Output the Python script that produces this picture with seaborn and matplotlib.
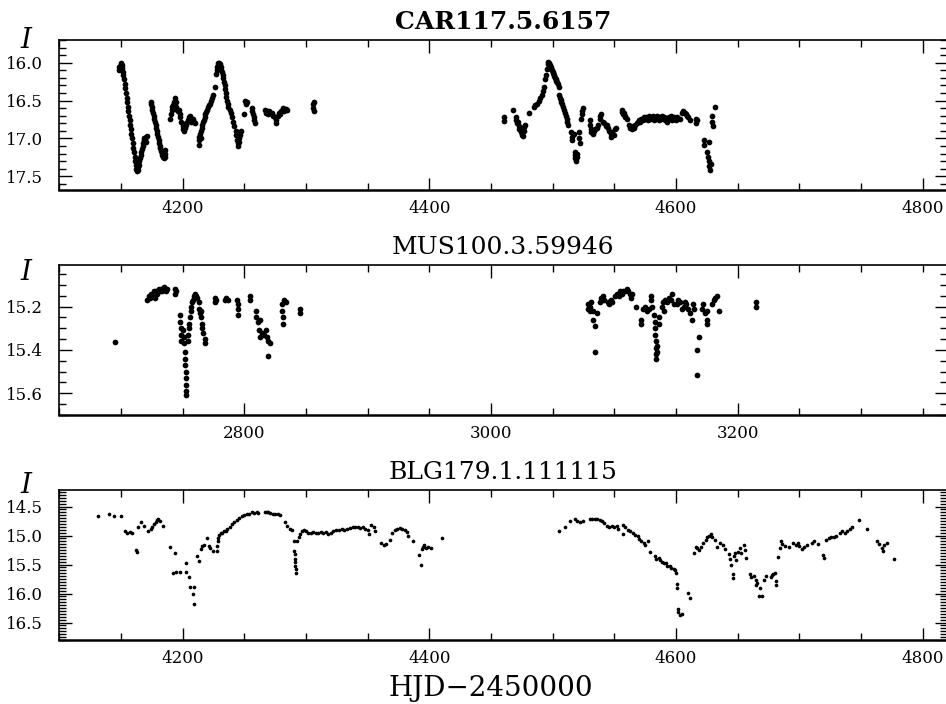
import matplotlib
matplotlib.use("Agg")
import matplotlib.pyplot as plt
import seaborn as sns
import pandas as pd
from matplotlib.ticker import MultipleLocator, FormatStrFormatter

# ---------------- data ----------------
titles = ["CAR117.5.6157", "MUS100.3.59946", "BLG179.1.111115"]
x_label = "HJD\u22122450000"
y_label = "I"

car_hjd = [
    4148.0, 4148.5, 4149.0, 4149.5, 4150.0, 4150.5, 4151.0, 4151.5, 4152.0, 4152.5,
    4153.0, 4153.5, 4154.0, 4154.5, 4155.0, 4155.5, 4156.0, 4156.5, 4157.0, 4157.5,
    4158.0, 4158.5, 4159.0, 4159.5, 4160.0, 4160.5, 4161.0, 4161.5, 4162.0, 4162.5,
    4163.0, 4163.5, 4164.0, 4164.5, 4165.0, 4165.5, 4166.0, 4166.5, 4167.0, 4167.5,
    4168.0, 4168.5, 4169.0, 4170.0, 4170.5, 4171.0,
    4174.0, 4174.5, 4175.0, 4175.5, 4176.0, 4176.5, 4177.0, 4177.5, 4178.0, 4178.5,
    4179.0, 4179.5, 4180.0, 4180.5, 4181.0, 4181.5, 4182.0, 4182.5, 4183.0, 4183.5,
    4184.0, 4184.5, 4185.0, 4185.5, 4186.0, 4186.0,
    4190.0, 4190.5, 4191.0, 4191.5, 4192.0, 4193.0, 4194.0, 4194.5, 4195.0, 4195.5,
    4196.0, 4197.0, 4197.5, 4198.0, 4199.0, 4200.0, 4200.5, 4201.0, 4202.0, 4202.5,
    4203.0, 4204.0, 4205.0, 4206.0, 4206.5, 4207.0, 4208.0, 4209.0, 4210.0,
    4213.0, 4213.0, 4213.5, 4214.0, 4214.5, 4215.0, 4215.5, 4216.0, 4216.5, 4217.0,
    4218.0, 4218.5, 4219.0, 4220.0, 4220.5, 4221.0, 4222.0, 4223.0, 4224.0, 4225.0,
    4226.0, 4227.0, 4227.5, 4228.0, 4228.5, 4229.0, 4229.5, 4230.0, 4230.5, 4231.0,
    4231.5, 4232.0, 4232.5, 4233.0, 4233.5, 4234.0, 4234.5, 4235.0, 4235.5, 4236.0,
    4236.5, 4237.0, 4238.0, 4239.0, 4240.0, 4241.0, 4242.0, 4243.0, 4243.5, 4244.0,
    4244.5, 4245.0, 4245.5, 4246.0, 4246.5, 4247.0,
    4249.5, 4250.5, 4251.0, 4252.0, 4256.0, 4256.5, 4257.0, 4257.5, 4258.0, 4258.5,
    4267.0, 4267.5, 4268.0, 4269.0, 4270.0, 4271.0, 4272.5, 4273.5, 4275.0, 4275.5,
    4276.0, 4277.0, 4278.0, 4279.0, 4280.0, 4281.0, 4282.0, 4284.0, 4285.0,
    4306.0, 4306.0, 4306.5, 4306.5,
    4460.5, 4460.5, 4468.0, 4470.0, 4470.5, 4471.0, 4472.0, 4472.5, 4473.0, 4474.0,
    4474.5, 4475.0, 4476.0, 4476.5, 4477.0, 4477.5, 4481.0, 4485.0, 4486.0, 4487.0,
    4489.0, 4490.0, 4491.0, 4492.0, 4493.0, 4494.0, 4494.5, 4495.5, 4496.0, 4496.5,
    4497.0, 4497.5, 4498.0, 4498.5, 4499.0, 4499.5, 4500.0, 4500.5, 4501.0, 4501.5,
    4502.0, 4502.5, 4503.0, 4503.5, 4504.0, 4505.0, 4505.5, 4506.0, 4506.5, 4507.0,
    4507.5, 4508.0, 4509.0, 4510.0, 4511.0, 4511.5, 4512.0, 4512.5, 4515.0, 4515.5,
    4516.0, 4517.5, 4518.0, 4518.5, 4518.5, 4519.0, 4519.5, 4520.0, 4521.5, 4521.5,
    4522.0, 4523.0, 4523.5, 4524.0, 4525.0, 4530.0, 4530.5, 4531.0, 4531.5, 4532.5,
    4533.5, 4534.5, 4536.0, 4537.0, 4538.0, 4538.5, 4539.5, 4541.0, 4542.0, 4543.0,
    4544.0, 4545.0, 4546.0, 4547.0, 4547.5, 4548.5, 4549.5, 4550.5, 4551.5,
    4556.0, 4556.5, 4557.0, 4558.0, 4558.5, 4559.0, 4560.0, 4562.0, 4563.0, 4564.0,
    4565.0, 4566.0, 4567.0, 4568.0, 4569.0, 4570.0, 4571.0, 4572.0, 4573.0, 4574.0,
    4575.0, 4576.0, 4577.0, 4578.0, 4579.0, 4580.0, 4581.0, 4582.0, 4583.0, 4584.0,
    4585.0, 4586.0, 4587.0, 4588.0, 4589.0, 4590.0, 4591.0, 4592.0, 4593.0, 4594.0,
    4595.0, 4596.0, 4597.0, 4598.0, 4599.0, 4600.0, 4601.0, 4603.0, 4605.0, 4606.0,
    4607.0, 4608.0, 4609.0, 4610.0, 4611.0, 4616.0, 4616.5, 4617.0, 4623.0, 4623.0,
    4625.5, 4626.0, 4626.5, 4627.0, 4627.0, 4627.5, 4628.0, 4629.5, 4629.5, 4630.0,
    4632.0,
]
car_mag = [
    16.10, 16.06, 16.04, 16.08, 16.00, 16.03, 16.07, 16.12, 16.16, 16.22,
    16.28, 16.34, 16.40, 16.46, 16.52, 16.58, 16.64, 16.70, 16.76, 16.82,
    16.88, 16.94, 17.00, 17.06, 17.12, 17.18, 17.24, 17.30, 17.35, 17.40,
    17.43, 17.38, 17.42, 17.35, 17.30, 17.26, 17.22, 17.18, 17.14, 17.10,
    17.06, 17.02, 17.00, 16.98, 17.04, 16.97,
    16.52, 16.55, 16.58, 16.62, 16.66, 16.70, 16.74, 16.78, 16.82, 16.86,
    16.90, 16.94, 16.98, 17.02, 17.06, 17.10, 17.13, 17.16, 17.19, 17.22,
    17.24, 17.26, 17.22, 17.25, 17.20, 17.15,
    16.74, 16.68, 16.62, 16.58, 16.56, 16.52, 16.47, 16.52, 16.58, 16.62,
    16.64, 16.62, 16.68, 16.72, 16.78, 16.84, 16.88, 16.90, 16.86, 16.82,
    16.80, 16.76, 16.72, 16.70, 16.74, 16.78, 16.74, 16.78, 16.80,
    17.08, 17.02, 16.98, 16.94, 17.00, 16.90, 16.86, 16.82, 16.78, 16.75,
    16.72, 16.68, 16.65, 16.62, 16.58, 16.56, 16.54, 16.50, 16.46, 16.43,
    16.32, 16.15, 16.10, 16.06, 16.03, 16.01, 16.00, 16.02, 16.04, 16.06,
    16.09, 16.12, 16.16, 16.20, 16.25, 16.30, 16.35, 16.40, 16.45, 16.50,
    16.54, 16.58, 16.62, 16.66, 16.72, 16.78, 16.84, 16.90, 16.96, 17.02,
    17.06, 17.10, 17.04, 17.00, 16.95, 16.90,
    16.68, 16.50, 16.54, 16.52, 16.60, 16.64, 16.68, 16.72, 16.76, 16.80,
    16.62, 16.66, 16.64, 16.68, 16.64, 16.66, 16.66, 16.70, 16.72, 16.80,
    16.76, 16.70, 16.66, 16.68, 16.64, 16.60, 16.64, 16.61, 16.62,
    16.55, 16.60, 16.64, 16.52,
    16.71, 16.77, 16.62, 16.72, 16.76, 16.80, 16.78, 16.84, 16.88, 16.86,
    16.92, 16.95, 16.97, 16.90, 16.85, 16.82, 16.66, 16.58, 16.56, 16.54,
    16.50, 16.46, 16.42, 16.37, 16.32, 16.22, 16.16, 16.08, 16.02, 15.99,
    16.01, 16.04, 16.03, 16.06, 16.08, 16.10, 16.12, 16.14, 16.16, 16.18,
    16.20, 16.22, 16.24, 16.26, 16.28, 16.32, 16.42, 16.46, 16.49, 16.52,
    16.55, 16.58, 16.62, 16.66, 16.70, 16.74, 16.78, 16.82, 16.92, 16.98,
    17.02, 16.94, 17.18, 17.22, 17.26, 17.30, 17.20, 17.24, 16.92, 17.00,
    17.06, 16.74, 16.68, 16.64, 16.60, 16.76, 16.82, 16.88, 16.92, 16.94,
    16.90, 16.88, 16.86, 16.82, 16.70, 16.74, 16.68, 16.78, 16.80, 16.84,
    16.82, 16.86, 16.90, 16.94, 16.98, 16.92, 16.96, 16.88, 16.86,
    16.62, 16.65, 16.68, 16.66, 16.70, 16.72, 16.74, 16.82, 16.86, 16.88,
    16.84, 16.86, 16.82, 16.80, 16.78, 16.76, 16.78, 16.74, 16.76, 16.72,
    16.74, 16.72, 16.76, 16.70, 16.74, 16.72, 16.70, 16.75, 16.72, 16.74,
    16.70, 16.76, 16.72, 16.74, 16.70, 16.72, 16.76, 16.73, 16.78, 16.72,
    16.74, 16.70, 16.76, 16.72, 16.74, 16.76, 16.72, 16.74, 16.66, 16.64,
    16.66, 16.68, 16.70, 16.72, 16.76, 16.74, 16.80, 16.76, 17.02, 17.08,
    17.18, 17.24, 17.30, 17.04, 17.36, 17.42, 17.34, 16.70, 16.78, 16.84,
    16.58,
]

mus_hjd = [
    2695.5, 2721.5, 2722.5, 2723.5, 2724.5, 2725.5, 2726.5, 2727.5, 2728.5, 2729.5,
    2730.5, 2731.5, 2732.5, 2733.5, 2734.5, 2735.5, 2736.5, 2737.5, 2743.5, 2744.0,
    2744.5, 2748.0, 2748.0, 2748.3, 2748.5, 2749.0, 2750.0, 2751.0, 2751.5, 2752.0,
    2752.0, 2752.2, 2752.4, 2752.6, 2752.8, 2753.0, 2753.0, 2754.0, 2754.5, 2755.0,
    2755.5, 2756.0, 2756.5, 2757.0, 2757.5, 2758.0, 2759.0, 2760.0, 2761.0, 2762.0,
    2763.0, 2763.5, 2764.0, 2764.5, 2765.0, 2765.5, 2766.0, 2766.5, 2768.0, 2768.0,
    2776.0, 2776.5, 2777.0, 2784.0, 2785.5, 2787.0, 2794.0, 2794.5, 2795.0, 2795.0,
    2805.0, 2805.0, 2809.5, 2809.5, 2811.0, 2812.0, 2812.5, 2813.0, 2814.5, 2816.0,
    2817.5, 2818.5, 2819.5, 2820.5, 2819.5, 2830.8, 2830.8, 2831.0, 2831.0, 2832.5,
    2833.5, 2845.0, 2845.0,
    3078.5, 3079.0, 3080.0, 3080.5, 3081.5, 3082.5, 3083.0, 3084.5, 3084.5, 3086.0,
    3088.0, 3089.0, 3090.0, 3091.0, 3092.0, 3095.0, 3096.0, 3097.0, 3098.5, 3100.5,
    3102.0, 3103.5, 3104.5, 3106.0, 3107.0, 3108.5, 3110.0, 3111.5, 3113.0, 3113.5,
    3114.5, 3117.5, 3121.5, 3121.5, 3123.5, 3125.0, 3126.5, 3128.0, 3129.5, 3129.5,
    3130.5, 3132.5, 3132.8, 3133.0, 3133.2, 3133.5, 3133.8, 3134.0, 3134.2, 3134.5,
    3135.0, 3136.0, 3136.0, 3138.5, 3139.5, 3140.0, 3141.5, 3143.0, 3144.5, 3146.0,
    3147.0, 3148.0, 3151.0, 3152.0, 3153.5, 3155.0, 3156.5, 3157.5, 3158.5, 3160.0,
    3161.0, 3162.7, 3164.0, 3165.0, 3166.8, 3167.3, 3168.7, 3171.0, 3172.0, 3173.5,
    3175.0, 3175.5, 3175.5, 3179.5, 3181.0, 3182.0, 3183.0, 3185.0, 3214.5, 3214.8,
]
mus_mag = [
    15.365, 15.17, 15.15, 15.16, 15.14, 15.15, 15.13, 15.16, 15.13, 15.14,
    15.12, 15.13, 15.12, 15.13, 15.11, 15.12, 15.13, 15.12, 15.12, 15.14,
    15.13, 15.24, 15.27, 15.30, 15.33, 15.36, 15.31, 15.34, 15.37, 15.41,
    15.44, 15.47, 15.50, 15.53, 15.56, 15.59, 15.61, 15.33, 15.36, 15.30,
    15.28, 15.25, 15.22, 15.20, 15.18, 15.17, 15.15, 15.14, 15.15, 15.16,
    15.18, 15.21, 15.23, 15.25, 15.22, 15.28, 15.30, 15.32, 15.35, 15.37,
    15.16, 15.18, 15.17, 15.17, 15.16, 15.17, 15.17, 15.19, 15.21, 15.24,
    15.15, 15.17, 15.22, 15.25, 15.27, 15.31, 15.34, 15.26, 15.32, 15.33,
    15.31, 15.34, 15.36, 15.37, 15.43, 15.19, 15.22, 15.25, 15.28, 15.17,
    15.18, 15.21, 15.23,
    15.21, 15.19, 15.20, 15.22, 15.18, 15.22, 15.26, 15.29, 15.41, 15.23,
    15.18, 15.16, 15.17, 15.15, 15.17, 15.18, 15.19, 15.17, 15.18, 15.15,
    15.14, 15.15, 15.13, 15.14, 15.13, 15.13, 15.12, 15.13, 15.14, 15.16,
    15.14, 15.20, 15.26, 15.28, 15.21, 15.20, 15.22, 15.21, 15.15, 15.17,
    15.20, 15.24, 15.27, 15.30, 15.33, 15.36, 15.39, 15.42, 15.44, 15.38,
    15.41, 15.25, 15.28, 15.20, 15.18, 15.22, 15.17, 15.18, 15.16, 15.17,
    15.14, 15.19, 15.19, 15.17, 15.18, 15.21, 15.20, 15.18, 15.19, 15.21,
    15.23, 15.26, 15.19, 15.21, 15.515, 15.40, 15.34, 15.21, 15.19, 15.23,
    15.22, 15.26, 15.28, 15.19, 15.17, 15.16, 15.15, 15.22, 15.18, 15.20,
]

blg_hjd = [
    4131, 4140, 4144, 4150, 4153, 4155, 4157, 4159, 4162, 4163,
    4164, 4166, 4169, 4172, 4174, 4175, 4177, 4178, 4179, 4180,
    4182, 4184, 4190, 4192, 4194, 4195, 4198, 4202.5, 4203, 4205,
    4206, 4208, 4209, 4209.6, 4211.5, 4213, 4215, 4215.5, 4217, 4219.5,
    4221, 4222, 4225, 4227.5, 4228, 4228.5, 4229, 4229.5, 4231, 4232,
    4233.5, 4235, 4236, 4238, 4240, 4242, 4244, 4246, 4248, 4250,
    4252, 4254, 4256, 4258, 4260, 4261, 4267, 4268, 4269, 4271,
    4273, 4275, 4277, 4279, 4283, 4285, 4287, 4289, 4290, 4290.5,
    4291, 4291, 4291.5, 4291.5, 4292, 4292, 4292.5, 4294, 4295, 4297,
    4298, 4300, 4302, 4304, 4306, 4308, 4310, 4312, 4314, 4316,
    4318, 4320, 4322, 4324, 4327, 4329, 4331, 4333, 4336, 4338,
    4340, 4342, 4344, 4346, 4348, 4350, 4351, 4353, 4355, 4356,
    4361, 4363, 4365, 4368, 4370, 4372, 4374, 4376, 4378, 4380,
    4382, 4383, 4387, 4392, 4393, 4394, 4395, 4396, 4397, 4399,
    4401, 4410,
    4505, 4510, 4514, 4518, 4520, 4522, 4525, 4530, 4532, 4534,
    4536, 4538, 4540, 4542, 4544, 4546, 4548, 4550, 4552, 4553,
    4557, 4557, 4559, 4561, 4563, 4565, 4567, 4569, 4570, 4572,
    4574, 4575, 4577, 4578.6, 4583, 4584, 4586, 4587, 4589, 4590,
    4592, 4593, 4595, 4596, 4598, 4599, 4600, 4600.5, 4600.5, 4601.5,
    4602, 4603, 4605, 4610, 4611, 4615, 4616, 4617, 4619, 4620,
    4622, 4624, 4625, 4627, 4628, 4629, 4632, 4633, 4636, 4638,
    4640, 4643, 4644, 4645, 4646, 4646, 4647, 4648, 4649, 4650,
    4652, 4653, 4655, 4656, 4657, 4660, 4661, 4663, 4665, 4665,
    4666, 4667, 4668, 4670, 4671, 4673, 4677, 4678, 4679, 4680,
    4681, 4681, 4683, 4684, 4685, 4686, 4688, 4692, 4695, 4697,
    4699, 4700, 4702, 4704, 4706, 4710, 4712, 4715, 4719, 4720,
    4722, 4724, 4726, 4728, 4730, 4733, 4735, 4737, 4739, 4741,
    4743, 4748.6, 4755, 4763, 4765, 4767, 4768, 4769, 4771, 4777,
]
blg_mag = [
    14.67, 14.63, 14.67, 14.67, 14.93, 14.95, 14.94, 14.96, 15.25, 15.28,
    14.86, 14.76, 14.83, 14.93, 14.89, 14.85, 14.80, 14.76, 14.73, 14.72,
    14.75, 14.83, 15.19, 15.65, 15.30, 15.63, 15.63, 15.48, 15.62, 15.72,
    15.88, 16.00, 15.88, 16.18, 15.36, 15.43, 15.24, 15.18, 15.16, 15.04,
    15.18, 15.22, 15.26, 15.26, 15.18, 15.10, 15.05, 14.99, 14.95, 14.96,
    14.93, 14.92, 14.88, 14.85, 14.80, 14.76, 14.74, 14.70, 14.67, 14.64,
    14.62, 14.62, 14.60, 14.61, 14.60, 14.61, 14.59, 14.60, 14.59, 14.61,
    14.62, 14.62, 14.63, 14.65, 14.76, 14.84, 14.88, 14.90, 15.10, 15.26,
    15.32, 15.40, 15.46, 15.52, 15.58, 15.65, 15.10, 15.02, 14.97, 14.92,
    14.90, 14.93, 14.95, 14.96, 14.94, 14.95, 14.96, 14.94, 14.95, 14.94,
    14.98, 14.96, 14.92, 14.90, 14.90, 14.89, 14.90, 14.89, 14.87, 14.86,
    14.86, 14.86, 14.87, 14.86, 14.88, 14.90, 14.98, 14.82, 14.86, 14.93,
    15.12, 15.16, 15.15, 15.08, 14.95, 14.90, 14.88, 14.87, 14.88, 14.90,
    14.94, 15.00, 15.10, 15.33, 15.50, 15.24, 15.20, 15.16, 15.22, 15.20,
    15.21, 15.05,
    14.92, 14.85, 14.75, 14.72, 14.75, 14.76, 14.75, 14.72, 14.71, 14.72,
    14.72, 14.73, 14.75, 14.78, 14.83, 14.85, 14.83, 14.85, 14.84, 14.88,
    14.82, 14.97, 14.86, 14.90, 14.92, 14.95, 14.99, 15.00, 15.06, 15.10,
    15.12, 15.17, 15.10, 15.28, 15.36, 15.40, 15.38, 15.42, 15.45, 15.48,
    15.47, 15.52, 15.53, 15.56, 15.58, 15.60, 15.64, 15.83, 15.90, 16.26,
    16.32, 16.37, 16.36, 15.99, 16.08, 15.30, 15.20, 15.22, 15.25, 15.20,
    15.12, 15.08, 15.03, 15.00, 14.97, 15.03, 15.08, 15.20, 15.12, 15.16,
    15.24, 15.32, 15.40, 15.50, 15.66, 15.74, 15.36, 15.30, 15.42, 15.28,
    15.22, 15.30, 15.17, 15.25, 15.38, 15.67, 15.72, 15.70, 15.76, 15.86,
    15.82, 16.05, 15.90, 16.05, 15.76, 15.70, 15.72, 15.68, 15.66, 15.65,
    15.78, 15.85, 15.37, 15.22, 15.10, 15.14, 15.18, 15.20, 15.13, 15.16,
    15.12, 15.18, 15.24, 15.20, 15.16, 15.12, 15.09, 15.15, 15.34, 15.38,
    15.08, 15.04, 15.02, 15.03, 15.00, 14.95, 14.93, 14.95, 14.93, 14.88,
    14.86, 14.73, 14.88, 15.10, 15.14, 15.22, 15.26, 15.16, 15.13, 15.40,
]

# ---------------- figure ----------------
sns.set_style("ticks")
plt.rcParams["font.family"] = ["DejaVu Serif"]
plt.rcParams.update({
    "text.color": "black", "axes.labelcolor": "black",
    "xtick.color": "black", "ytick.color": "black", "axes.edgecolor": "black",
})

W, H = 946, 704
fig = plt.figure(figsize=(W / 100, H / 100), dpi=100)

panels = [
    dict(x=car_hjd, y=car_mag, xlim=(4100, 4820), ylim=(17.68, 15.70),
         ymaj=0.5, ymin=0.1, top=40, bot=190, s=17, title_w="bold", iy=1.0),
    dict(x=mus_hjd, y=mus_mag, xlim=(2650, 3370), ylim=(15.70, 15.008),
         ymaj=0.2, ymin=0.05, top=265, bot=415, s=17, title_w="normal", iy=0.95),
    dict(x=blg_hjd, y=blg_mag, xlim=(4100, 4820), ylim=(16.80, 14.215),
         ymaj=0.5, ymin=0.05, top=490, bot=640, s=7, title_w="normal", iy=1.03),
]

left_px = 59.3
width_px = 888.0
for p, title in zip(panels, titles):
    ax = fig.add_axes([left_px / W, 1 - p["bot"] / H, width_px / W,
                       (p["bot"] - p["top"]) / H])
    df = pd.DataFrame({"hjd": p["x"], "mag": p["y"]})
    sns.scatterplot(data=df, x="hjd", y="mag", ax=ax, color="black",
                    s=p["s"], linewidth=0, legend=False)
    ax.set_xlim(*p["xlim"])
    ax.set_ylim(*p["ylim"])
    ax.xaxis.set_major_locator(MultipleLocator(200))
    ax.xaxis.set_minor_locator(MultipleLocator(50))
    ax.yaxis.set_major_locator(MultipleLocator(p["ymaj"]))
    ax.yaxis.set_minor_locator(MultipleLocator(p["ymin"]))
    ax.yaxis.set_major_formatter(FormatStrFormatter("%.1f"))
    ax.tick_params(which="both", direction="in", top=True, right=True,
                   width=1.0, colors="black")
    ax.tick_params(which="major", length=9)
    ax.tick_params(which="minor", length=5)
    ax.tick_params(axis="x", which="major", labelsize=12, pad=7)
    ax.tick_params(axis="y", which="major", labelsize=12, pad=12)
    ax.set_xlabel("")
    ax.set_ylabel("")
    for side in ["top", "left", "right"]:
        ax.spines[side].set_linewidth(1.2)
    ax.spines["bottom"].set_linewidth(1.8)
    ax.set_title(title, fontsize=18, fontweight=p["title_w"], pad=8,
                 color="black")
    ax.text(-0.038, p["iy"], y_label, transform=ax.transAxes, fontsize=20,
            style="italic", ha="center", va="center", color="black")

fig.text(491 / W, 1 - 688 / H, x_label, fontsize=20, ha="center", va="center",
         color="black")

fig.savefig("out.png", dpi=100)
